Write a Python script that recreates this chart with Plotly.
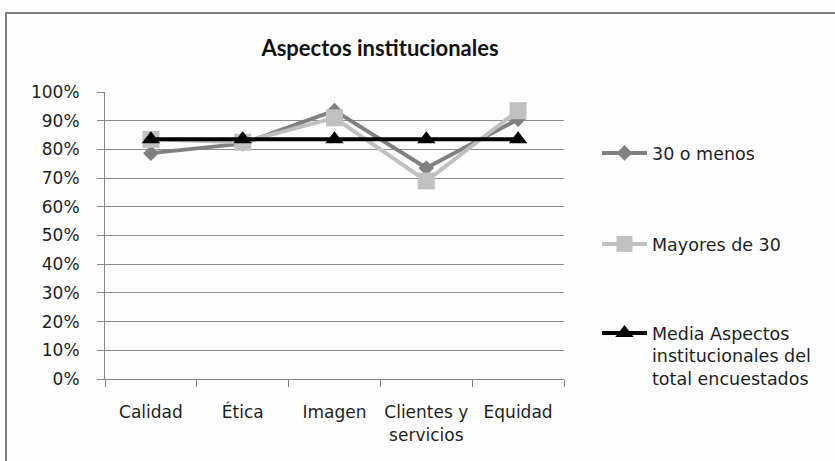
import plotly.graph_objects as go

# Categories and series values (fractions of 1)
categorias = ["Calidad", "Ética", "Imagen", "Clientes y<br>servicios", "Equidad"]
treinta_o_menos = [0.787, 0.820, 0.935, 0.735, 0.905]
mayores_de_30 = [0.835, 0.825, 0.910, 0.690, 0.935]
media_total = [0.835, 0.835, 0.835, 0.835, 0.835]
y_ticks = [0, 0.1, 0.2, 0.3, 0.4, 0.5, 0.6, 0.7, 0.8, 0.9, 1.0]
y_labels = ["0%", "10%", "20%", "30%", "40%", "50%", "60%", "70%", "80%", "90%", "100%"]

W, H = 835, 461
L, R, T, B = 105, 564, 92, 379  # plot area in pixels

FONT = "DejaVu Sans"
TITLE_FONT = "Lato"
TXT = "#1e1e1e"

fig = go.Figure()
fig.add_trace(go.Scatter(
    x=categorias, y=treinta_o_menos, name="30 o menos", mode="lines+markers",
    line=dict(color="#808080", width=4),
    marker=dict(symbol="diamond", size=12, color="#808080"),
    legend="legend",
))
fig.add_trace(go.Scatter(
    x=categorias, y=mayores_de_30, name="Mayores de 30", mode="lines+markers",
    line=dict(color="#c0c0c0", width=4),
    marker=dict(symbol="square", size=17, color="#c0c0c0"),
    legend="legend2",
))
fig.add_trace(go.Scatter(
    x=categorias, y=media_total,
    name="Media Aspectos<br>institucionales del<br>total encuestados",
    mode="lines+markers",
    line=dict(color="#000000", width=4),
    marker=dict(symbol="triangle-up", size=16, color="#000000"),
    legend="legend3",
))


def px_x(px):
    return (px - L) / (R - L)


def px_y(py):
    return (B - py) / (B - T)


def legend_at(px, py, anchor):
    return dict(
        x=px_x(px), y=px_y(py), xanchor="left", yanchor=anchor,
        font=dict(family=FONT, size=17.5, color=TXT),
        bgcolor="rgba(0,0,0,0)", itemwidth=45, valign="top",
    )


fig.update_layout(
    width=W, height=H,
    margin=dict(l=L, r=W - R, t=T, b=H - B, autoexpand=False),
    paper_bgcolor="#fefefe", plot_bgcolor="#fefefe",
    font=dict(family=FONT, size=17, color=TXT),
    title=dict(
        text="<b>Aspectos institucionales</b>",
        x=380 / W, xref="container",
        y=1 - 48 / H, yref="container", xanchor="center", yanchor="middle",
        font=dict(family=TITLE_FONT, size=22, color="#111111"),
    ),
    showlegend=True,
    legend=legend_at(597, 153, "middle"),
    legend2=legend_at(597, 244, "middle"),
    legend3=legend_at(597, 315, "top"),
    xaxis=dict(
        type="category", range=[-0.5, 4.5], tickson="boundaries",
        ticks="outside", ticklen=7, tickcolor="#868686", tickangle=0,
        showline=True, linecolor="#868686", linewidth=1,
        showgrid=False, ticklabelstandoff=18,
        tickfont=dict(family=FONT, size=17, color=TXT),
    ),
    yaxis=dict(
        range=[0, 1], tickvals=y_ticks, ticktext=y_labels,
        ticks="outside", ticklen=7, tickcolor="#868686",
        showline=True, linecolor="#868686", linewidth=1,
        showgrid=True, gridcolor="#8c8c8c", gridwidth=1, zeroline=False,
        ticklabelstandoff=14,
        tickfont=dict(family=FONT, size=17, color=TXT),
    ),
)

# Chart frame (top and left edges)
fig.add_shape(
    type="line", xref="paper", yref="paper",
    x0=px_x(5), y0=px_y(13), x1=px_x(W + 5), y1=px_y(13),
    line=dict(color="#7f7f7f", width=2),
)
fig.add_shape(
    type="line", xref="paper", yref="paper",
    x0=px_x(6), y0=px_y(13), x1=px_x(6), y1=px_y(H + 5),
    line=dict(color="#7f7f7f", width=2),
)

fig.write_html("out.html")
